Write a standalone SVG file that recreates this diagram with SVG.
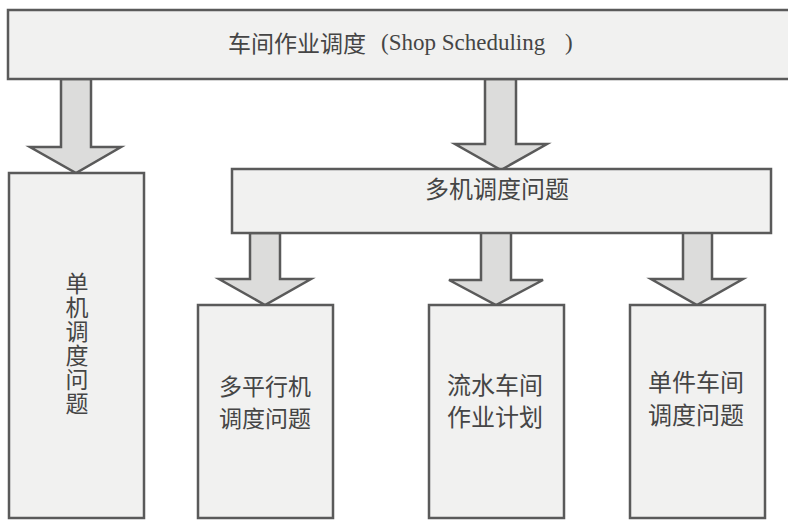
<svg xmlns="http://www.w3.org/2000/svg" width="788" height="520" viewBox="0 0 788 520">
<style>
.box{fill:#f1f1f0;stroke:#5a5a5a;stroke-width:2.5}
.arr{fill:#dcdcdb;stroke:#5a5a5a;stroke-width:2.5;stroke-linejoin:miter}
.t{font-family:"Noto Sans CJK SC","Liberation Sans",sans-serif;font-size:24px;fill:#454545}
.lat{font-family:"Liberation Serif",serif;font-size:23px;fill:#454545}
</style>
<rect width="788" height="520" fill="#ffffff"/>
<g id="connectors">
<polygon class="arr" points="61,79 91,79 91,147 121,147 76,173 30,147 61,147"/>
<polygon class="arr" points="485,79 516,79 516,144 547,144 501,170 455,144 485,144"/>
<polygon class="arr" points="250,233 280,233 280,279 311,279 265,305 219,279 250,279"/>
<polygon class="arr" points="481,231 511,231 511,280 543,280 496,305 449,280 481,280"/>
<polygon class="arr" points="683,228 712,228 712,279 743,279 697,305 651,279 683,279"/>
</g>
<g id="shop-scheduling">
<rect class="box" x="8" y="10" width="800" height="69"/>
<text class="t" x="228" y="52" style="font-size:23px">车间作业调度</text>
<text class="lat" x="381" y="50">(Shop Scheduling</text>
<text class="lat" x="565" y="50">)</text>
</g>
<g id="single-machine">
<rect class="box" x="9" y="173" width="135" height="345"/>
<text class="t" x="77" y="272" style="font-size:23px;writing-mode:vertical-rl;letter-spacing:1px">单机调度问题</text>
</g>
<g id="multi-machine">
<rect class="box" x="232" y="169" width="539" height="64"/>
<text class="t" x="425" y="198">多机调度问题</text>
</g>
<g id="parallel-machine">
<rect class="box" x="198" y="305" width="135" height="213"/>
<text class="t" text-anchor="middle" style="font-size:23px"><tspan x="265" y="395">多平行机</tspan><tspan x="265" y="427">调度问题</tspan></text>
</g>
<g id="flow-shop">
<rect class="box" x="429" y="305" width="135" height="213"/>
<text class="t" text-anchor="middle"><tspan x="495" y="394">流水车间</tspan><tspan x="495" y="426">作业计划</tspan></text>
</g>
<g id="job-shop">
<rect class="box" x="630" y="305" width="135" height="213"/>
<text class="t" text-anchor="middle"><tspan x="696" y="391">单件车间</tspan><tspan x="696" y="424">调度问题</tspan></text>
</g>
</svg>
